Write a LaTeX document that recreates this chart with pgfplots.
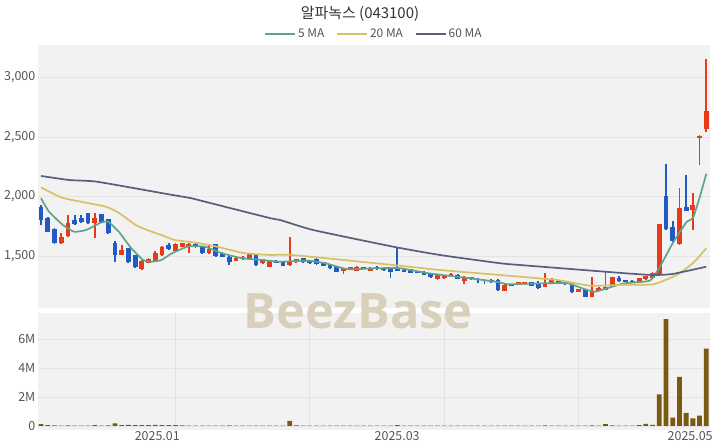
\documentclass[border=0pt]{standalone}
\usepackage{fontspec}
\setmainfont{Noto Sans CJK KR}
\newfontfamily\wmfont{Open Sans}
\usepackage{pgfplots}
\usepackage{pgfplotstable}
\pgfplotsset{compat=1.18}
\definecolor{upc}{RGB}{232,58,24}
\definecolor{dnc}{RGB}{33,90,196}
\definecolor{ma5}{RGB}{95,163,140}
\definecolor{ma20}{RGB}{215,193,100}
\definecolor{ma60}{RGB}{88,94,124}
\definecolor{volc}{RGB}{122,90,18}
\definecolor{bgc}{RGB}{242,242,242}
\definecolor{gridc}{RGB}{228,228,228}
\definecolor{labc}{RGB}{85,85,85}
\definecolor{wmc}{RGB}{216,208,186}

\pgfplotstableread{
x o h l c
3 1606 1695 1600 1662
4 1667 1843 1660 1774
8 1774 1857 1648 1816
12 1508 1590 1505 1550
15 1388 1466 1385 1461
16 1444 1480 1440 1472
17 1452 1540 1448 1528
18 1508 1585 1500 1578
20 1544 1605 1540 1600
21 1578 1610 1575 1606
22 1578 1605 1523 1600
25 1528 1598 1520 1556
29 1461 1490 1458 1486
30 1472 1498 1468 1494
31 1472 1528 1468 1514
33 1439 1476 1435 1472
34 1411 1470 1405 1466
37 1425 1662 1420 1461
38 1447 1478 1443 1472
45 1377 1402 1347 1397
46 1391 1410 1388 1405
47 1377 1420 1374 1405
49 1377 1406 1374 1402
59 1305 1350 1302 1347
60 1313 1340 1310 1336
61 1330 1355 1326 1347
63 1293 1330 1263 1327
64 1305 1325 1300 1320
69 1210 1262 1205 1257
71 1257 1284 1254 1280
72 1262 1285 1258 1280
75 1243 1355 1240 1277
76 1271 1313 1268 1299
80 1201 1224 1198 1221
82 1159 1327 1155 1210
83 1210 1238 1206 1235
84 1215 1363 1212 1243
85 1257 1327 1254 1322
89 1285 1316 1282 1313
90 1305 1336 1302 1333
91 1318 1363 1315 1360
92 1349 1770 1345 1765
95 1600 2075 1595 1905
97 1885 2033 1718 1927
98 2495 2515 2262 2510
99 2569 3155 2541 2720
}\upT

\pgfplotstableread{
x o h l c
0 1913 1925 1760 1801
1 1816 1830 1700 1704
2 1724 1735 1600 1606
5 1801 1843 1760 1765
6 1816 1843 1780 1787
7 1857 1860 1770 1774
9 1849 1855 1780 1787
10 1807 1812 1685 1690
11 1606 1628 1450 1508
13 1564 1570 1445 1452
14 1508 1512 1400 1405
19 1592 1610 1550 1556
23 1598 1605 1570 1573
24 1578 1582 1520 1523
26 1598 1602 1495 1500
27 1528 1532 1490 1494
28 1494 1498 1425 1452
32 1508 1512 1420 1425
35 1461 1466 1440 1444
36 1452 1456 1415 1419
39 1480 1484 1443 1447
40 1458 1470 1435 1439
41 1475 1480 1426 1430
42 1447 1450 1415 1419
43 1425 1428 1393 1397
44 1405 1410 1365 1369
48 1405 1410 1388 1391
50 1410 1415 1385 1390
51 1402 1406 1378 1382
52 1397 1400 1313 1369
53 1402 1564 1374 1377
54 1383 1388 1366 1369
55 1389 1393 1357 1360
56 1372 1376 1355 1360
57 1369 1372 1338 1341
58 1355 1358 1319 1322
62 1341 1345 1304 1307
65 1310 1314 1275 1300
66 1300 1305 1268 1290
67 1300 1304 1275 1282
68 1299 1303 1210 1215
70 1260 1265 1245 1248
73 1280 1284 1248 1251
74 1271 1290 1226 1229
77 1299 1302 1268 1271
78 1280 1284 1255 1262
79 1257 1260 1193 1196
81 1221 1224 1155 1159
86 1318 1335 1282 1290
87 1298 1302 1278 1284
88 1294 1298 1276 1280
93 2005 2276 1715 1724
94 1740 1790 1620 1626
96 1908 2178 1875 1880
}\dnT

\pgfplotstableread{
x v
0 0.12
1 0.05
2 0.04
3 0.03
4 0.04
5 0.03
6 0.02
7 0.03
8 0.05
9 0.03
10 0.04
11 0.17
12 0.06
13 0.07
14 0.06
15 0.05
16 0.06
17 0.07
18 0.06
19 0.05
20 0.06
21 0.04
22 0.03
23 0.02
24 0.03
25 0.02
26 0.03
27 0.02
28 0.04
29 0.02
30 0.02
31 0.03
32 0.02
33 0.02
34 0.03
35 0.02
36 0.02
37 0.35
38 0.04
39 0.03
40 0.02
41 0.02
42 0.02
43 0.03
44 0.03
45 0.02
46 0.02
47 0.02
48 0.02
49 0.02
50 0.02
51 0.02
52 0.03
53 0.06
54 0.02
55 0.02
56 0.02
57 0.02
58 0.03
59 0.02
60 0.02
61 0.02
62 0.02
63 0.03
64 0.02
65 0.02
66 0.02
67 0.02
68 0.03
69 0.03
70 0.02
71 0.02
72 0.02
73 0.02
74 0.02
75 0.04
76 0.03
77 0.02
78 0.02
79 0.03
80 0.02
81 0.03
82 0.04
83 0.03
84 0.12
85 0.04
86 0.03
87 0.02
88 0.02
89 0.05
90 0.15
91 0.08
92 2.18
93 7.36
94 0.57
95 3.38
96 0.90
97 0.53
98 0.71
99 5.33
}\volT

\pgfplotsset{
  common/.style={
    scale only axis, width=672bp,
    xmin=-0.45, xmax=99.55,
    axis background/.style={fill=bgc},
    axis line style={draw=none},
    major tick style={draw=none}, minor tick style={draw=none},
    ymajorgrids, xminorgrids,
    major grid style={draw=gridc, line width=0.8bp},
    minor grid style={draw=gridc, line width=0.8bp},
    minor xtick={20,40,60,80},
    tick label style={font=\fontsize{12.5}{12.5}\selectfont, text=labc},
    /pgf/number format/assume math mode=true,
    yticklabel style={inner sep=0pt, xshift=-2.5bp},
  },
}

\begin{document}
\begin{tikzpicture}
\path[use as bounding box] (0,0) rectangle (720bp,-448bp);

\begin{axis}[common,
  at={(38bp,-308bp)}, anchor=south west, height=263bp,
  ymin=1063, ymax=3272,
  xtick=\empty,
  ytick={1500,2000,2500,3000},
  yticklabels={{1,500},{2,000},{2,500},{3,000}},
  legend style={at={(0.5,1)}, anchor=south, yshift=2bp, draw=none, fill=none,
    font=\fontsize{12}{12}\selectfont, text=labc, legend columns=3,
    /tikz/every even column/.append style={column sep=10bp}},
  legend image code/.code={\draw[#1] (0bp,0bp) -- (30bp,0bp);},
]
\addplot[mark=none, draw=none, forget plot,
    error bars/.cd, y dir=plus, y explicit, error mark=none,
    error bar style={line width=1.8bp, draw=upc, solid}]
  table[x=x, y=l, y error expr=\thisrow{h}-\thisrow{l}] {\upT};
\addplot[mark=none, draw=none, forget plot,
    error bars/.cd, y dir=plus, y explicit, error mark=none,
    error bar style={line width=1.8bp, draw=dnc, solid}]
  table[x=x, y=l, y error expr=\thisrow{h}-\thisrow{l}] {\dnT};
\addplot[mark=none, draw=none, forget plot,
    error bars/.cd, y dir=plus, y explicit, error mark=none,
    error bar style={line width=4.8bp, draw=upc, solid}]
  table[x=x, y=o, y error expr={max(\thisrow{c}-\thisrow{o},9)}] {\upT};
\addplot[mark=none, draw=none, forget plot,
    error bars/.cd, y dir=plus, y explicit, error mark=none,
    error bar style={line width=4.8bp, draw=dnc, solid}]
  table[x=x, y=c, y error expr={max(\thisrow{o}-\thisrow{c},9)}] {\dnT};

\addplot[color=ma5, line width=1.7bp, smooth, tension=0.3] coordinates {
(0,1985) (1.19,1872) (3.27,1760) (4.91,1704) (6.7,1718) (8.78,1777) (9.97,1788)
(11.6,1702) (13.4,1567) (15.2,1466) (16.4,1452) (17.9,1466) (19.5,1523) (21.9,1580)
(24.4,1578) (26.9,1523) (29.9,1481) (32.9,1466) (35.6,1452) (39.7,1461) (42.3,1439)
(45.7,1388) (49.7,1397) (53.4,1397) (57.6,1355) (62.6,1321) (67.6,1284) (69.5,1262)
(71.3,1265) (75.4,1271) (78.4,1271) (80.5,1229) (82.4,1200) (85.0,1242) (86.9,1271)
(90.6,1293) (92.1,1410) (94.0,1607) (96.1,1788) (97.0,1817) (98,1990) (99,2190)};
\addlegendentry{5 MA}
\addplot[color=ma20, line width=1.7bp, smooth, tension=0.3] coordinates {
(0,2077) (3.27,1987) (9.5,1916) (11.6,1861) (14.1,1760) (15.8,1718) (17.9,1676)
(19.9,1634) (23.4,1609) (26.2,1578) (30.1,1525) (34.1,1508) (37.5,1508) (52.4,1424)
(59.4,1382) (68.3,1340) (76.8,1298) (81.7,1250) (86.6,1258) (91.1,1262) (94.6,1340)
(97,1439) (99,1565)};
\addlegendentry{20 MA}
\addplot[color=ma60, line width=1.7bp, smooth, tension=0.3] coordinates {
(0,2172) (4.2,2138) (8.3,2124) (17.9,2029) (19.6,2012) (22.2,1987) (23.7,1966)
(34,1819) (35.6,1802) (40.5,1718) (52.4,1578) (59.4,1508) (68.3,1439) (71.3,1424)
(86.9,1355) (91.1,1340) (94,1349) (99,1410)};
\addlegendentry{60 MA}
\end{axis}

\begin{axis}[common,
  at={(38bp,-430bp)}, anchor=south west, height=117bp,
  ymin=-0.28, ymax=7.79,
  xtick={17.3,53,96.6},
  xticklabels={2025.01,2025.03,2025.05},
  xticklabel style={inner sep=0pt, yshift=-1bp},
  ytick={0,2,4,6},
  yticklabels={0,2M,4M,6M},
]
\addplot[ybar, bar width=4.8bp, fill=volc, draw=none] table[x=x, y=v] {\volT};
\end{axis}

\node[anchor=base, font=\wmfont\bfseries\fontsize{49}{49}\selectfont, text=wmc]
  at (358bp,-328bp) {BeezBase};
\node[font=\fontsize{15}{15}\selectfont, text=black!80] at (360bp,-14bp) {알파녹스 (043100)};
\end{tikzpicture}
\end{document}
